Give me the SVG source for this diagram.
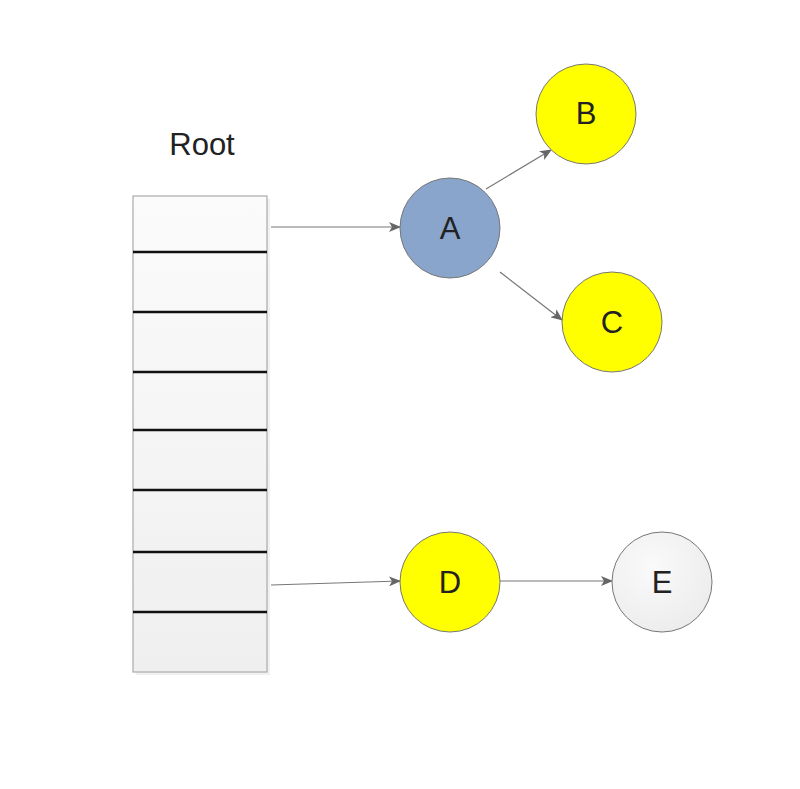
<svg xmlns="http://www.w3.org/2000/svg" width="800" height="789" viewBox="0 0 800 789">
<style>
.lbl{font-family:"Liberation Sans",Arial,sans-serif;font-size:31px;fill:#222;text-anchor:middle;dominant-baseline:central}
.node{stroke:#777;stroke-width:1}
.conn{stroke:#777;stroke-width:1.2;fill:none;marker-end:url(#ah)}
.div{stroke:#111;stroke-width:2.5}
</style>
<defs>
<marker id="ah" markerWidth="12" markerHeight="10" refX="11" refY="5" orient="auto" markerUnits="userSpaceOnUse">
<path d="M0,0 L12,5 L0,10 L3,5 Z" fill="#666"/>
</marker>
<linearGradient id="cell" x1="0" y1="0" x2="0" y2="1">
<stop offset="0" stop-color="#fbfbfb"/>
<stop offset="1" stop-color="#efefef"/>
</linearGradient>
<radialGradient id="eg" cx="0.4" cy="0.35" r="0.7">
<stop offset="0" stop-color="#fafafa"/>
<stop offset="1" stop-color="#ececec"/>
</radialGradient>
</defs>
<rect width="800" height="789" fill="#fff"/>
<g id="root">
<text class="lbl" x="202" y="144">Root</text>
<rect x="136" y="199" width="134" height="476" fill="#e8e8e8" opacity="0.6"/>
<rect x="133" y="196" width="134" height="476" fill="url(#cell)" stroke="#aaa" stroke-width="1.2"/>
<line class="div" x1="133" y1="252" x2="267" y2="252"/>
<line class="div" x1="133" y1="312" x2="267" y2="312"/>
<line class="div" x1="133" y1="372" x2="267" y2="372"/>
<line class="div" x1="133" y1="430" x2="267" y2="430"/>
<line class="div" x1="133" y1="490" x2="267" y2="490"/>
<line class="div" x1="133" y1="552" x2="267" y2="552"/>
<line class="div" x1="133" y1="612" x2="267" y2="612"/>
</g>
<g id="connectors">
<line class="conn" x1="271" y1="227" x2="400" y2="227"/>
<line class="conn" x1="486" y1="189" x2="551" y2="150"/>
<line class="conn" x1="500" y1="272" x2="562" y2="320"/>
<line class="conn" x1="271" y1="585" x2="400" y2="581"/>
<line class="conn" x1="500" y1="581" x2="612" y2="581"/>
</g>
<g id="A"><circle class="node" cx="450" cy="228" r="50" fill="#8aa5cb"/><text class="lbl" x="450" y="228">A</text></g>
<g id="B"><circle class="node" cx="586" cy="114" r="50" fill="#ffff00"/><text class="lbl" x="586" y="113">B</text></g>
<g id="C"><circle class="node" cx="612" cy="322" r="50" fill="#ffff00"/><text class="lbl" x="612" y="322">C</text></g>
<g id="D"><circle class="node" cx="450" cy="582" r="50" fill="#ffff00"/><text class="lbl" x="450" y="582">D</text></g>
<g id="E"><circle class="node" cx="662" cy="582" r="50" fill="url(#eg)"/><text class="lbl" x="662" y="582">E</text></g>
</svg>
